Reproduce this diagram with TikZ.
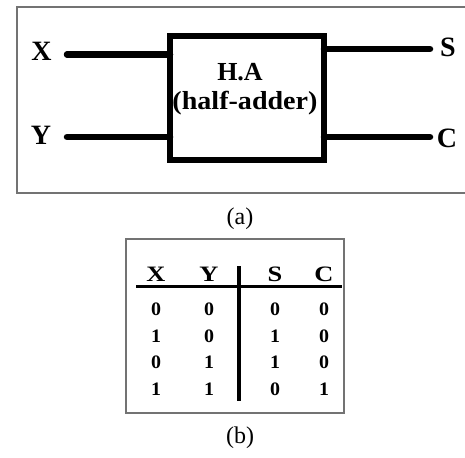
\documentclass[tikz,border=0pt]{standalone}
\usepackage{fontspec}
\setmainfont{Liberation Serif}
\begin{document}
\begin{tikzpicture}[x=1pt,y=-1pt,
  frame/.style={draw=black!55,line width=1.3pt},
  wire/.style={line width=6.5pt,line cap=round},
  lbl/.style={font=\fontsize{28}{30}\selectfont\bfseries,anchor=base,inner sep=0pt},
  hd/.style={font=\fontsize{22}{24}\selectfont\bfseries,anchor=base,inner sep=0pt,xscale=1.2},
  dg/.style={font=\fontsize{19}{21}\selectfont\bfseries,anchor=base,inner sep=0pt,xscale=1.05},
  captext/.style={font=\fontsize{24}{26}\selectfont,anchor=base,inner sep=0pt}]
\useasboundingbox (0,0) rectangle (465,457);
% (a) frame
\draw[frame] (467,7) -- (17,7) -- (17,193) -- (467,193);
% half adder box
\node[draw,line width=5.5pt,minimum width=154pt,minimum height=124pt,inner sep=0pt,outer sep=0pt] (ha) at (247,98) {};
\node[font=\fontsize{26}{28}\selectfont\bfseries,anchor=base,inner sep=0pt] (t1) at (240,81) {H.A};
\node[font=\fontsize{26}{28}\selectfont\bfseries,anchor=base,inner sep=0pt,xscale=1.08] (t2) at (245,110) {(half-adder)};
% labels
\node[lbl] (X) at (41.5,61) {X};
\node[lbl] (Y) at (41,145) {Y};
\node[lbl] (S) at (448,57) {S};
\node[lbl] (C) at (447,148) {C};
\coordinate (xe) at (67,54.5);
\coordinate (ye) at (67,137);
\coordinate (se) at (430,49);
\coordinate (ce) at (430,137);
\draw[wire] (xe) -- (ha.west |- xe);
\draw[wire] (ye) -- (ha.west |- ye);
\draw[wire] (ha.east |- se) -- (se);
\draw[wire] (ha.east |- ce) -- (ce);
\node[captext] (ca) at (240,224) {(a)};
% (b) table
\draw[frame] (126,239) rectangle (344,413);
\node[hd] (hX) at (156,281) {X};
\node[hd] (hY) at (209,281) {Y};
\node[hd] (hS) at (275,281) {S};
\node[hd] (hC) at (324,281) {C};
\coordinate (h1) at (136,286.5);
\coordinate (h2) at (342,286.5);
\coordinate (v1) at (239,266);
\coordinate (v2) at (239,401);
\draw[line width=3.5pt] (h1) -- (h2);
\draw[line width=3.5pt] (v1) -- (v2);
\foreach \y/\a/\b/\s/\c in {315/0/0/0/0,342/1/0/1/0,368/0/1/1/0,395/1/1/0/1}{
  \node[dg] at (156,\y) {\a};
  \node[dg] at (209,\y) {\b};
  \node[dg] at (275,\y) {\s};
  \node[dg] at (324,\y) {\c};
}
\node[captext] (cb) at (240,443) {(b)};
\end{tikzpicture}
\end{document}
